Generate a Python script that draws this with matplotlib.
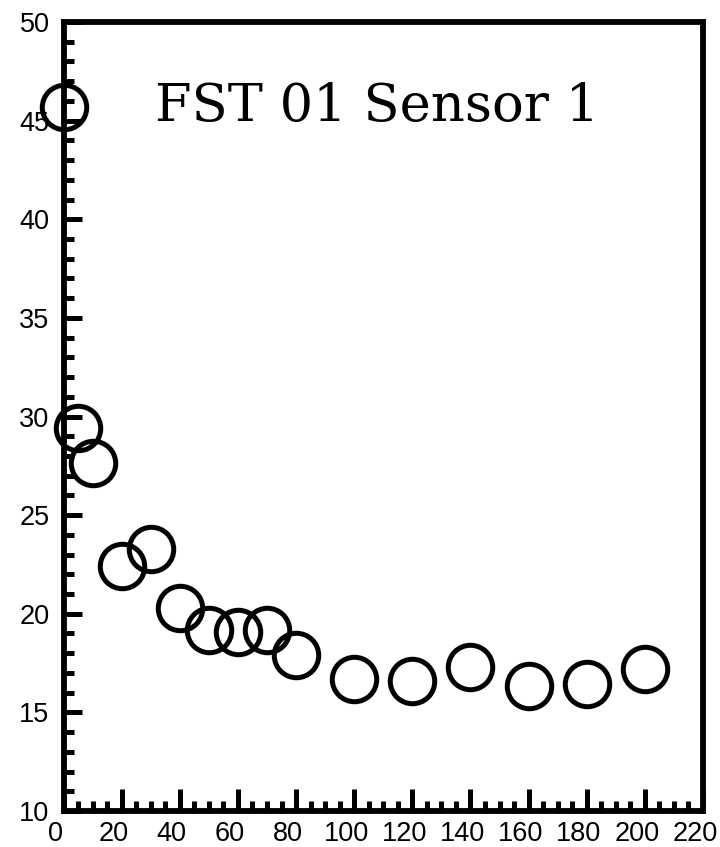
import matplotlib.pyplot as plt
from matplotlib.ticker import MultipleLocator
from matplotlib.transforms import ScaledTranslation

# sensor readings
time_vals = [0, 5, 10, 20, 30, 40, 50, 60, 70, 80, 100, 120, 140, 160, 180, 200]
sensor_vals = [45.7, 29.4, 27.65, 22.4, 23.3, 20.3, 19.2, 19.1, 19.2, 17.9,
               16.7, 16.6, 17.3, 16.35, 16.45, 17.2]
title_text = 'FST 01 Sensor 1'

plt.rcParams['font.family'] = ['Liberation Sans', 'DejaVu Sans']

fig = plt.figure(figsize=(7.2, 8.47), dpi=100)
ax = fig.add_axes([0.0882, 0.0425, 0.8882, 0.9315])

ax.plot(time_vals, sensor_vals, linestyle='none', marker='o', markersize=32,
        markerfacecolor='none', markeredgecolor='black', markeredgewidth=3.6,
        clip_on=False, zorder=5)

ax.set_xlim(0, 220)
ax.set_ylim(10, 50)
ax.xaxis.set_major_locator(MultipleLocator(20))
ax.xaxis.set_minor_locator(MultipleLocator(5))
ax.yaxis.set_major_locator(MultipleLocator(5))
ax.yaxis.set_minor_locator(MultipleLocator(1))

for side in ['left', 'right', 'top', 'bottom']:
    ax.spines[side].set_linewidth(4.2)

ax.tick_params(axis='both', which='both', direction='in', width=3.6,
               top=False, right=False, labelsize=19.5)
ax.tick_params(axis='x', which='major', length=16, pad=7)
ax.tick_params(axis='y', which='major', length=13, pad=10)
ax.tick_params(axis='both', which='minor', length=7.5)

ax.text(0.143, 0.875, title_text, transform=ax.transAxes, ha='left',
        va='baseline', fontsize=38, family=['DejaVu Serif'])

# nudge x tick labels a bit to the left so 220 stays inside the figure
fig.canvas.draw()
ticks = ax.xaxis.get_major_ticks()
for i, tick in enumerate(ticks):
    dx = -13 if i == len(ticks) - 1 else -8
    shift = ScaledTranslation(dx / 100, 0, fig.dpi_scale_trans)
    tick.label1.set_transform(tick.label1.get_transform() + shift)

fig.savefig('out.png', dpi=100)
